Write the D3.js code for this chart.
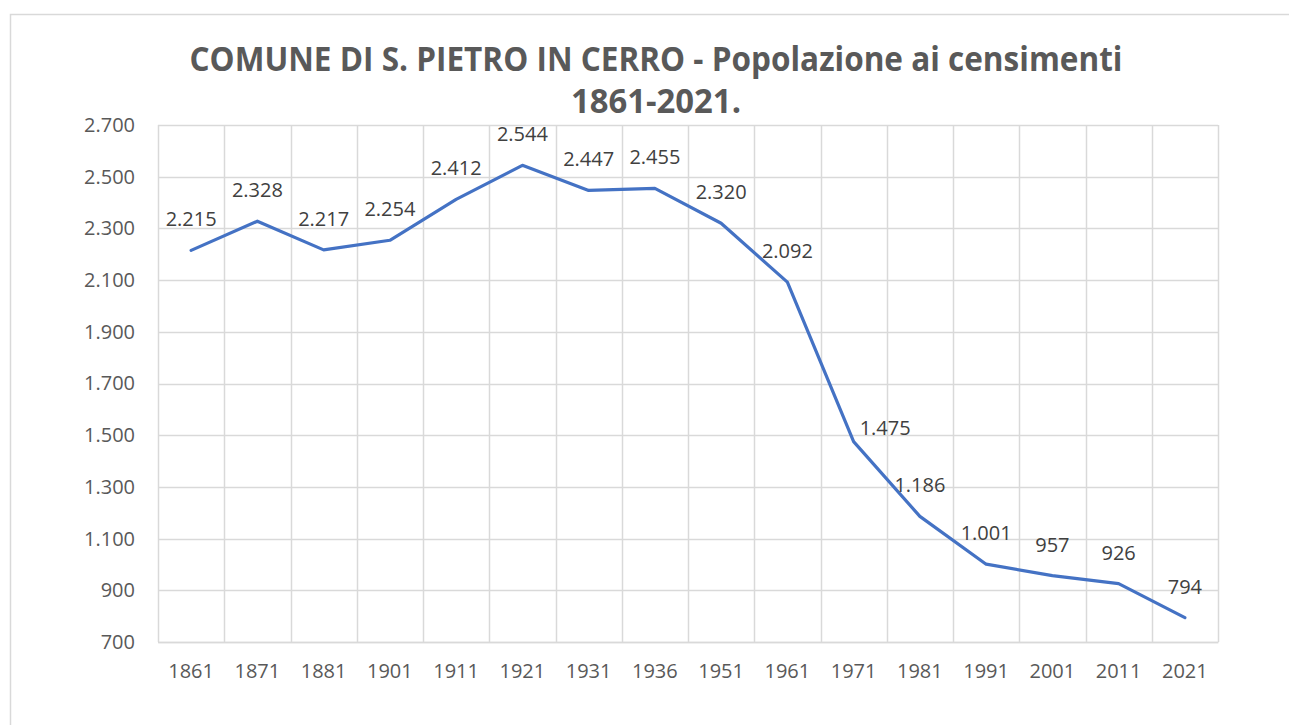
<!DOCTYPE html>
<html>
<head>
<meta charset="utf-8">
<script src="https://cdn.jsdelivr.net/npm/d3@7"></script>
<style>
  html, body { margin: 0; padding: 0; background: #ffffff; }
  svg { display: block; }
</style>
</head>
<body>
<svg id="chart" width="1289" height="725"></svg>
<script>
// ---- data ----
const years = ["1861","1871","1881","1901","1911","1921","1931","1936","1951","1961","1971","1981","1991","2001","2011","2021"];
const population = [2215, 2328, 2217, 2254, 2412, 2544, 2447, 2455, 2320, 2092, 1475, 1186, 1001, 957, 926, 794];
const yTicks = [700, 900, 1100, 1300, 1500, 1700, 1900, 2100, 2300, 2500, 2700];
const labelPlacement = ["above","above","above","above","above","above","above","above","above","above","right","above","above","above","above","above"];
const titleLines = ["COMUNE DI S. PIETRO IN CERRO - Popolazione ai censimenti", "1861-2021."];

// ---- layout ----
const W = 1289, H = 725;
const plot = { left: 158, right: 1218, top: 125, bottom: 642 };
const FONT = "'Open Sans', sans-serif";
const FS = 20;
const svg = d3.select("#chart");
const itFmt = d => d3.format(",")(d).replace(/,/g, ".");

svg.append("rect").attr("x", 0).attr("y", 0).attr("width", W).attr("height", H).attr("fill", "#fff");
// chart area border (extends beyond the window)
svg.append("rect").attr("x", 10.5).attr("y", 14.5).attr("width", 1400).attr("height", 800)
  .attr("fill", "#fff").attr("stroke", "#d9d9d9").attr("stroke-width", 1.5);

const x = d3.scaleBand().domain(years).range([plot.left, plot.right]).padding(0);
const y = d3.scaleLinear().domain([700, 2700]).range([plot.bottom, plot.top]);

// horizontal gridlines
svg.append("g").selectAll("line").data(yTicks).join("line")
  .attr("x1", plot.left).attr("x2", plot.right)
  .attr("y1", d => Math.round(y(d)) + 0.5).attr("y2", d => Math.round(y(d)) + 0.5)
  .attr("stroke", "#d9d9d9").attr("stroke-width", 1.5);

// vertical gridlines at category edges
const edges = years.map(d => x(d)).concat([x(years[years.length - 1]) + x.bandwidth()]);
svg.append("g").selectAll("line").data(edges).join("line")
  .attr("x1", d => Math.round(d) + 0.5).attr("x2", d => Math.round(d) + 0.5)
  .attr("y1", plot.top).attr("y2", plot.bottom)
  .attr("stroke", "#d9d9d9").attr("stroke-width", 1.5);

// y axis labels
const yAxis = d3.axisLeft(y).tickValues(yTicks).tickFormat(itFmt).tickSize(0).tickPadding(23);
const gy = svg.append("g").attr("transform", `translate(${plot.left},0)`).call(yAxis);
gy.select(".domain").remove();
gy.attr("font-family", FONT).attr("font-size", FS);
gy.selectAll("text").attr("fill", "#595959");

// x axis labels
const xAxis = d3.axisBottom(x).tickSize(0).tickPadding(22);
const gx = svg.append("g").attr("transform", `translate(0,${plot.bottom})`).call(xAxis);
gx.select(".domain").attr("stroke", "#d9d9d9").attr("stroke-width", 1.5);
gx.attr("font-family", FONT).attr("font-size", FS);
gx.selectAll("text").attr("fill", "#595959");

// line
const cx = d => x(d) + x.bandwidth() / 2;
const line = d3.line().x((d, i) => cx(years[i])).y(d => y(d));
svg.append("path").datum(population).attr("d", line)
  .attr("fill", "none").attr("stroke", "#4472c4").attr("stroke-width", 3.2)
  .attr("stroke-linejoin", "round").attr("stroke-linecap", "round");

// data labels
svg.append("g").selectAll("text").data(population).join("text")
  .attr("x", (d, i) => labelPlacement[i] === "right" ? cx(years[i]) + 6 : cx(years[i]))
  .attr("y", (d, i) => labelPlacement[i] === "right" ? y(d) - 7 : y(d) - 24)
  .attr("text-anchor", (d, i) => labelPlacement[i] === "right" ? "start" : "middle")
  .attr("font-family", FONT).attr("font-size", FS)
  .attr("fill", "#404040")
  .text(d => itFmt(d));

// title
const title = svg.append("g");
title.append("text").attr("x", 656).attr("y", 71).attr("text-anchor", "middle")
  .attr("font-family", FONT).attr("font-weight", "bold").attr("font-size", 34)
  .attr("fill", "#595959").attr("textLength", 933).attr("lengthAdjust", "spacingAndGlyphs")
  .text(titleLines[0]);
title.append("text").attr("x", 656).attr("y", 113).attr("text-anchor", "middle")
  .attr("font-family", FONT).attr("font-weight", "bold").attr("font-size", 34)
  .attr("fill", "#595959").attr("textLength", 170).attr("lengthAdjust", "spacingAndGlyphs")
  .text(titleLines[1]);
</script>
</body>
</html>
